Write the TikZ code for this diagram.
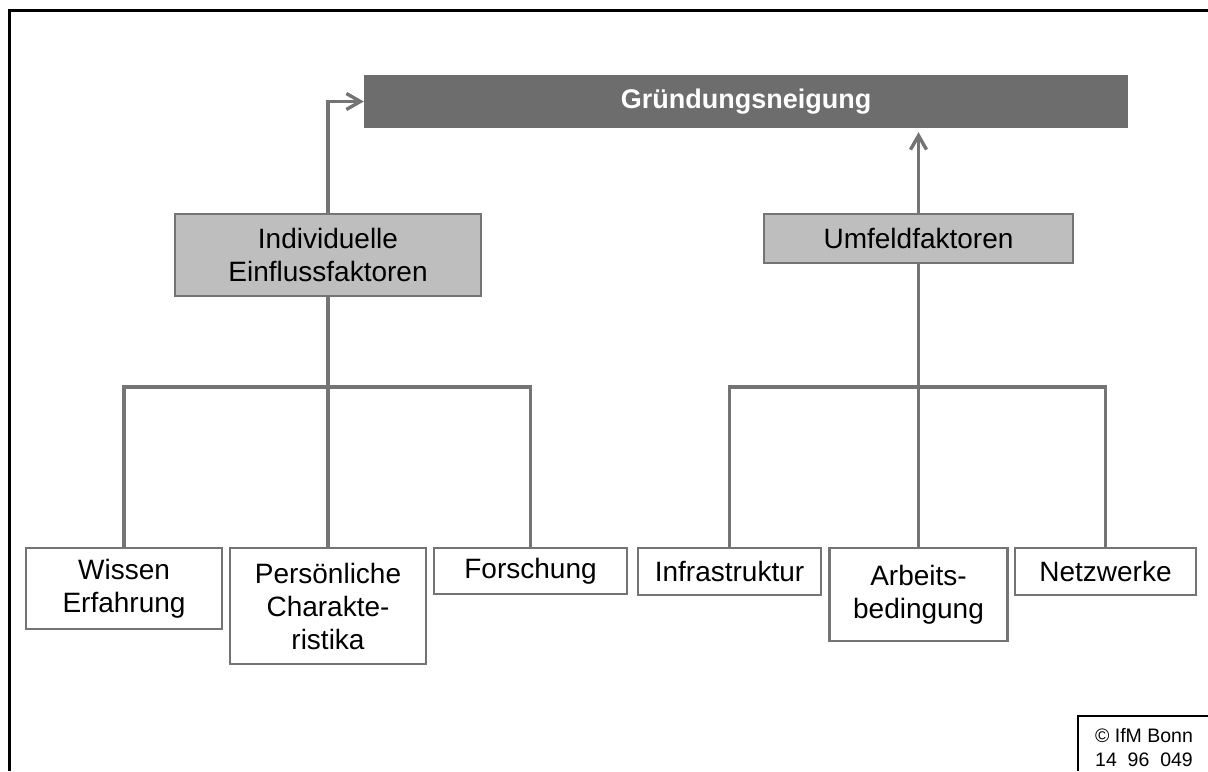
\documentclass[tikz,border=0pt]{standalone}
\usepackage{fontspec}
\setmainfont{Liberation Sans}
\usetikzlibrary{arrows.meta}
\definecolor{linegray}{HTML}{747474}
\definecolor{bargray}{HTML}{6D6D6D}
\definecolor{boxgray}{HTML}{BEBEBE}
\begin{document}
\begin{tikzpicture}[x=0.5pt,y=-0.5pt,%
% common options for blocks:
block/.style = {draw=linegray, line width=1.2pt, fill=white, align=center, anchor=north,
            inner sep=0, font=\fontsize{14}{16.5}\selectfont},
% common options for the two factor boxes:
factor/.style = {block, fill=boxgray, anchor=center},
% common options for the lines:
link/.style = {draw=linegray, line width=1.7pt},
flow/.style = {link, -{Straight Barb[length=7pt,width=8pt]}}]
\useasboundingbox (0,0) rectangle (1208,771);
\draw[line width=1.5pt] (9.5,771) |- (1208,10.5);
\node[block, anchor=center, fill=bargray, draw=bargray, text=white,
      font=\bfseries\fontsize{13.5}{16.5}\selectfont,
      minimum width=381pt, minimum height=25.5pt] (Z) at (746,101.5) {Gründungsneigung};
\node[factor, minimum width=153pt, minimum height=41pt] (I) at (328,255) {Individuelle\\Einflussfaktoren};
\node[factor, minimum width=154.5pt, minimum height=24.5pt] (U) at (918.5,238.5) {Umfeldfaktoren};
\node[block, minimum width=98pt, minimum height=40.5pt] (I1) at (124,547) {Wissen\\Erfahrung};
\node[block, minimum width=98pt, minimum height=58pt] (I2) at (328,547) {Persönliche\\Charakte-\\ristika};
\node[block, minimum width=96.5pt, minimum height=23pt] (I3) at (530.5,547) {Forschung};
\node[block, minimum width=91.5pt, minimum height=23.5pt] (U1) at (729.5,547) {Infrastruktur};
\node[block, minimum width=89pt, minimum height=46.5pt] (U2) at (918.5,547) {Arbeits-\\bedingung};
\node[block, minimum width=90.5pt, minimum height=23.5pt] (U3) at (1105.5,547) {Netzwerke};
\coordinate (Ibus) at (328,387);
\coordinate (Ubus) at (918.5,387);
\draw[link] (I1.north) |- (Ibus) -| (I3.north);
\draw[link] (I.south) -- (I2.north);
\draw[link] (U1.north) |- (Ubus) -| (U3.north);
\draw[link] (U.south) -- (U2.north);
\draw[flow] (I.north) |- (Z.west);
\draw[flow, shorten >=2pt] (U.north) -- (U.north |- Z.south);
\draw[line width=1.2pt] (1078,771) |- (1208,716);
\node[font=\fontsize{9.75}{12}\selectfont, align=center] (C) at (1144,748) {© IfM Bonn\\14\ \ 96\ \ 049};
\end{tikzpicture}
\end{document}
